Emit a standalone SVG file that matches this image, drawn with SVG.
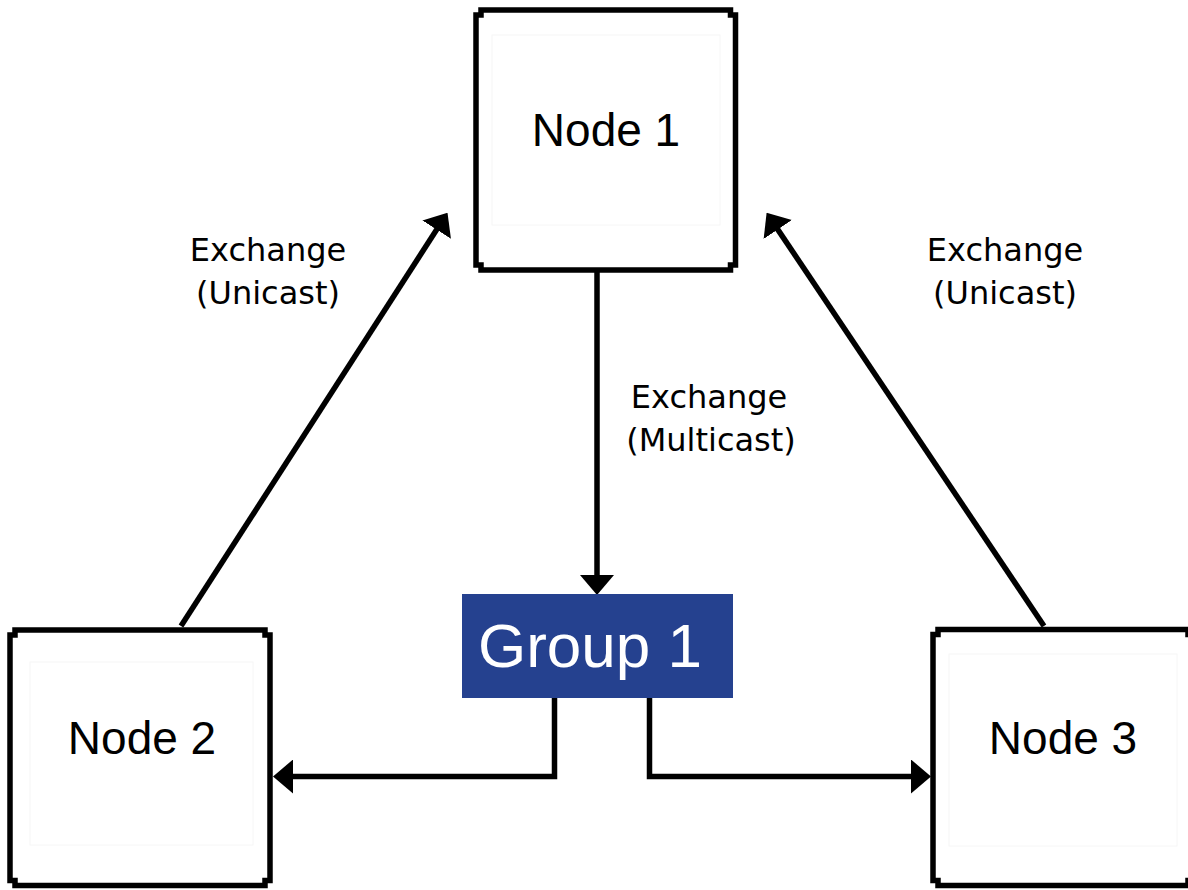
<svg xmlns="http://www.w3.org/2000/svg" width="1188" height="890" viewBox="0 0 1188 890">
  <style>
    .box { fill: #ffffff; stroke: #000000; stroke-width: 5.5; stroke-linejoin: miter; }
    .inner { fill: none; stroke: #f6f6f6; stroke-width: 1; }
    .nlabel { font-family: "Liberation Sans", Arial, sans-serif; font-size: 46px; fill: #000000; text-anchor: middle; }
    .elabel { font-family: "DejaVu Sans", sans-serif; font-size: 32px; fill: #000000; text-anchor: middle; }
    .glabel { font-family: "Liberation Sans", Arial, sans-serif; font-size: 62px; fill: #ffffff; text-anchor: middle; }
    .conn { fill: none; stroke: #000000; stroke-width: 5.5; stroke-linejoin: miter; }
  </style>
  <defs>
    <marker id="arrow" viewBox="0 -17 20 34" markerUnits="userSpaceOnUse" markerWidth="20" markerHeight="34" refX="1" refY="0" orient="auto">
      <path d="M0,-17 L20,0 L0,17 Z" fill="#000000"/>
    </marker>
  </defs>
  <rect width="1188" height="890" fill="#ffffff"/>

  <g id="connectors">
    <path class="conn" d="M597,272 V576" marker-end="url(#arrow)"/>
    <path class="conn" d="M554.5,698 V776.5 H292" marker-end="url(#arrow)"/>
    <path class="conn" d="M649.5,698 V776.5 H912" marker-end="url(#arrow)"/>
    <path class="conn" d="M181,626 L437.2,228.8" marker-end="url(#arrow)"/>
    <path class="conn" d="M1044,626 L777.2,228.6" marker-end="url(#arrow)"/>
  </g>

  <g id="labels">
    <text class="elabel" x="268" y="261">Exchange</text>
    <text class="elabel" x="268" y="304">(Unicast)</text>
    <text class="elabel" x="1005" y="261">Exchange</text>
    <text class="elabel" x="1005" y="304">(Unicast)</text>
    <text class="elabel" x="709" y="408">Exchange</text>
    <text class="elabel" x="711" y="451">(Multicast)</text>
  </g>

  <g id="node1">
    <path class="box" d="M481,10 H730.5 V15 H735.5 V265 H730.5 V270 H481 V265 H476 V15 H481 Z"/>
    <rect class="inner" x="492" y="35" width="228" height="190"/>
    <text class="nlabel" x="606" y="146">Node 1</text>
  </g>

  <g id="node2">
    <path class="box" d="M15,630 H265 V635 H270 V880.5 H265 V885.5 H15 V880.5 H10 V635 H15 Z"/>
    <rect class="inner" x="30" y="662" width="223" height="183"/>
    <text class="nlabel" x="142" y="754">Node 2</text>
  </g>

  <g id="node3">
    <path class="box" d="M938,629.5 H1188 V634.5 H1193 V880.5 H1188 V885.5 H938 V880.5 H933 V634.5 H938 Z"/>
    <rect class="inner" x="949" y="654" width="228" height="192"/>
    <text class="nlabel" x="1063" y="754">Node 3</text>
  </g>

  <g id="group1">
    <rect x="462" y="594" width="271" height="104" fill="#25418f"/>
    <text class="glabel" x="590" y="667">Group 1</text>
  </g>
</svg>
